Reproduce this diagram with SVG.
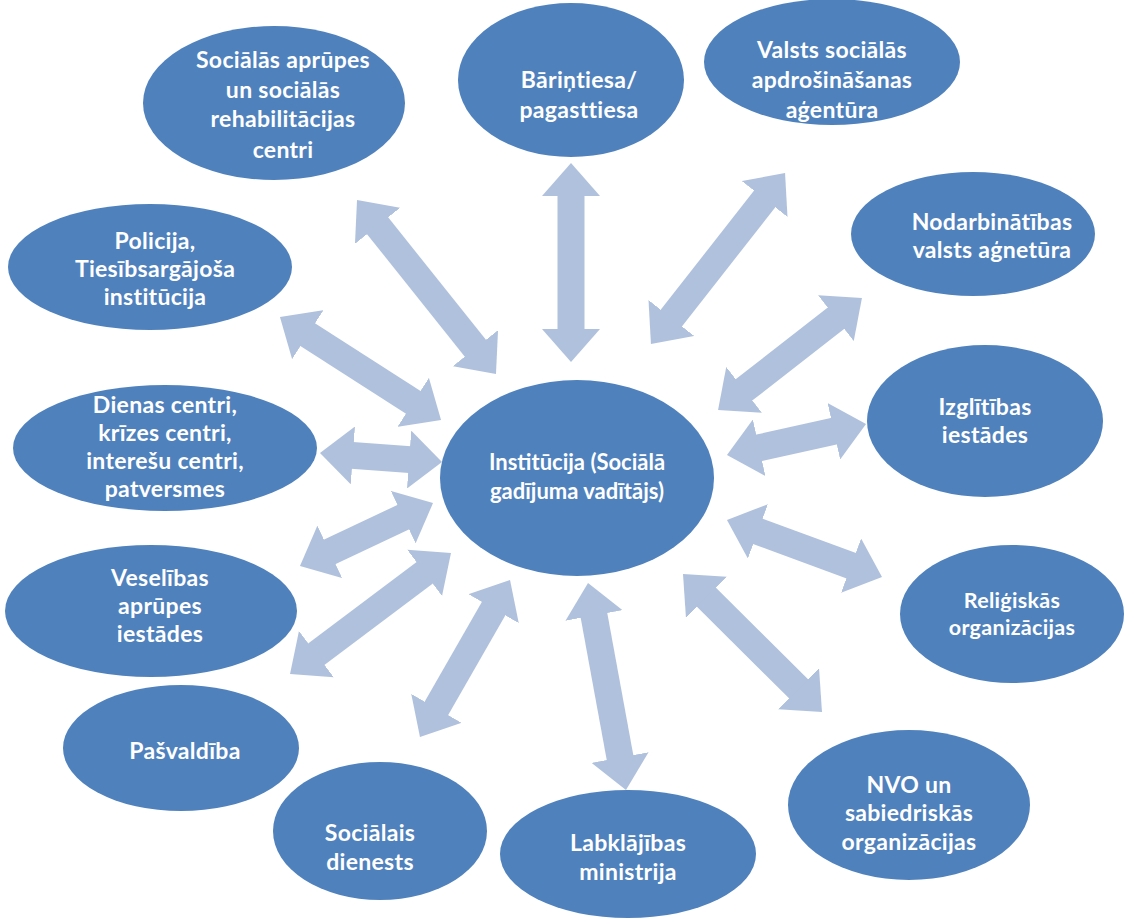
<svg xmlns="http://www.w3.org/2000/svg" width="1126" height="923" viewBox="0 0 1126 923">
<defs>
<style>
.n{fill:#4F81BD;}
.t{fill:#fff;font-family:Lato,"Open Sans",sans-serif;font-weight:bold;font-size:23px;text-anchor:middle;letter-spacing:0.3px;}
.s{font-size:22px;letter-spacing:0;}
.r{font-size:21.5px;letter-spacing:0.3px;}
.c{stroke:#B0C1DD;stroke-width:27;fill:none;marker-start:url(#h);marker-end:url(#h);}
</style>
<marker id="h" markerUnits="userSpaceOnUse" markerWidth="34" markerHeight="58" refX="1" refY="29" orient="auto-start-reverse" viewBox="0 0 34 58">
<path d="M0,0 L33,29 L0,58 z" fill="#B0C1DD"/>
</marker>
</defs>
<rect width="1126" height="923" fill="#fff"/>
<g id="connectors">
<line class="c" x1="377" y1="225" x2="476" y2="349"/>
<line class="c" x1="571" y1="195" x2="571" y2="330"/>
<line class="c" x1="765.3" y1="198.2" x2="670.7" y2="318.8"/>
<line class="c" x1="836.7" y1="317.6" x2="743.3" y2="390.4"/>
<line class="c" x1="758.2" y1="448" x2="834.8" y2="431"/>
<line class="c" x1="757" y1="531" x2="852" y2="566"/>
<line class="c" x1="705.7" y1="596.5" x2="799.3" y2="689.5"/>
<line class="c" x1="593.8" y1="614.5" x2="620.2" y2="758.5"/>
<line class="c" x1="494.1" y1="607.8" x2="435.9" y2="709.2"/>
<line class="c" x1="425.4" y1="572.2" x2="315.6" y2="654.8"/>
<line class="c" x1="404.1" y1="516.7" x2="328.9" y2="552.3"/>
<line class="c" x1="351.9" y1="455.4" x2="410.1" y2="459.6"/>
<line class="c" x1="306.9" y1="334.2" x2="414.1" y2="402.8"/>
</g>
<g id="center">
<ellipse class="n" cx="577" cy="478" rx="137" ry="98"/>
<text class="t s" x="577" y="462" dy="0.35em">Institūcija (Sociālā</text>
<text class="t s" x="577" y="491" dy="0.35em">gadījuma vadītājs)</text>
</g>
<g id="n1">
<ellipse class="n" cx="274" cy="103" rx="131" ry="77"/>
<text class="t" x="283" y="60" dy="0.35em">Sociālās aprūpes</text>
<text class="t" x="283" y="90" dy="0.35em">un sociālās</text>
<text class="t" x="283" y="119" dy="0.35em">rehabilitācijas</text>
<text class="t" x="283" y="150" dy="0.35em">centri</text>
</g>
<g id="n2">
<ellipse class="n" cx="571" cy="80" rx="113" ry="77"/>
<text class="t" x="579" y="80" dy="0.35em">Bāriņtiesa/</text>
<text class="t" x="579" y="110" dy="0.35em">pagasttiesa</text>
</g>
<g id="n3">
<ellipse class="n" cx="832" cy="62" rx="128" ry="63"/>
<text class="t" x="832" y="50" dy="0.35em">Valsts sociālās</text>
<text class="t" x="832" y="80" dy="0.35em">apdrošināšanas</text>
<text class="t" x="832" y="110" dy="0.35em">aģentūra</text>
</g>
<g id="n4">
<ellipse class="n" cx="973" cy="234" rx="122" ry="62"/>
<text class="t" x="992" y="222" dy="0.35em">Nodarbinātības</text>
<text class="t" x="992" y="250" dy="0.35em">valsts aģnetūra</text>
</g>
<g id="n5">
<ellipse class="n" cx="985" cy="421" rx="118" ry="76"/>
<text class="t" x="985" y="407" dy="0.35em">Izglītības</text>
<text class="t" x="985" y="435" dy="0.35em">iestādes</text>
</g>
<g id="n6">
<ellipse class="n" cx="1012" cy="614" rx="112" ry="69"/>
<text class="t r" x="1012" y="600" dy="0.35em">Reliģiskās</text>
<text class="t r" x="1012" y="627" dy="0.35em">organizācijas</text>
</g>
<g id="n7">
<ellipse class="n" cx="909" cy="805" rx="121" ry="75"/>
<text class="t" x="909" y="785" dy="0.35em">NVO un</text>
<text class="t" x="909" y="813" dy="0.35em">sabiedriskās</text>
<text class="t" x="909" y="842" dy="0.35em">organizācijas</text>
</g>
<g id="n8">
<ellipse class="n" cx="628" cy="854" rx="128" ry="64"/>
<text class="t" x="628" y="843" dy="0.35em">Labklājības</text>
<text class="t" x="628" y="872" dy="0.35em">ministrija</text>
</g>
<g id="n9">
<ellipse class="n" cx="380" cy="831" rx="107" ry="69"/>
<text class="t" x="370" y="833" dy="0.35em">Sociālais</text>
<text class="t" x="370" y="862" dy="0.35em">dienests</text>
</g>
<g id="n10">
<ellipse class="n" cx="181" cy="748" rx="118" ry="63"/>
<text class="t" x="185" y="751" dy="0.35em">Pašvaldība</text>
</g>
<g id="n11">
<ellipse class="n" cx="151" cy="611" rx="146" ry="66"/>
<text class="t" x="160" y="578" dy="0.35em">Veselības</text>
<text class="t" x="160" y="606" dy="0.35em">aprūpes</text>
<text class="t" x="160" y="634" dy="0.35em">iestādes</text>
</g>
<g id="n12">
<ellipse class="n" cx="165" cy="448" rx="152" ry="63"/>
<text class="t" x="165" y="405" dy="0.35em">Dienas centri,</text>
<text class="t" x="165" y="433" dy="0.35em">krīzes centri,</text>
<text class="t" x="165" y="461" dy="0.35em">interešu centri,</text>
<text class="t" x="165" y="489" dy="0.35em">patversmes</text>
</g>
<g id="n13">
<ellipse class="n" cx="150" cy="267" rx="142" ry="63"/>
<text class="t" x="155" y="241" dy="0.35em">Policija,</text>
<text class="t" x="155" y="269" dy="0.35em">Tiesībsargājoša</text>
<text class="t" x="155" y="297" dy="0.35em">institūcija</text>
</g>
</svg>
